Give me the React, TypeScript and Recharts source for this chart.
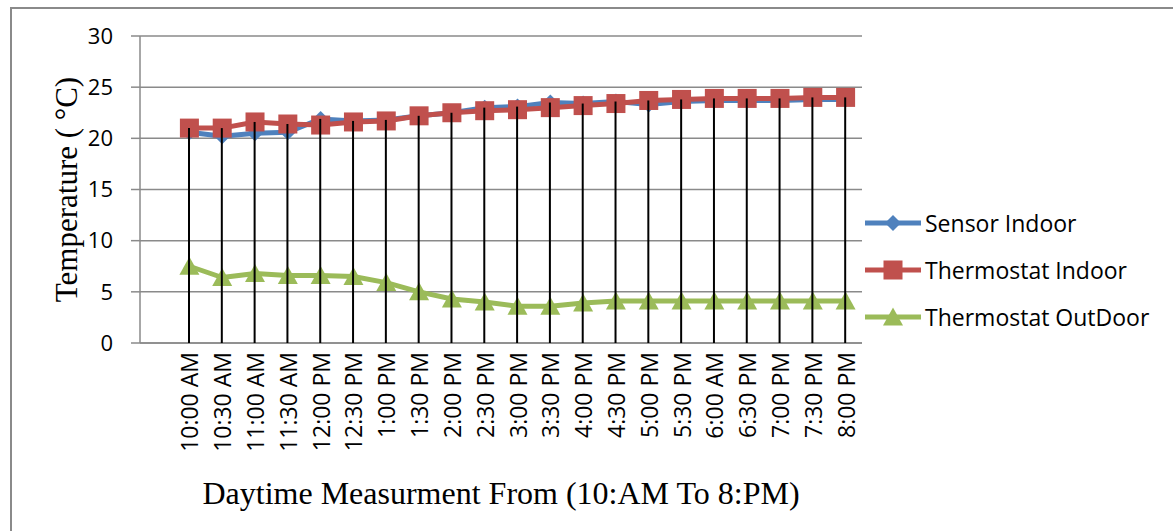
import React from "react";
import {
  ComposedChart, Line, Bar, XAxis, YAxis, CartesianGrid, Legend, Label,
} from "recharts";

const SANS = "'Open Sans', sans-serif";
const SERIF = "'Liberation Serif', 'Times New Roman', serif";
const GRAY = "#8a8a8a";

const TIMES = [
  "10:00 AM", "10:30 AM", "11:00 AM", "11:30 AM", "12:00 PM", "12:30 PM",
  "1:00 PM", "1:30 PM", "2:00 PM", "2:30 PM", "3:00 PM", "3:30 PM",
  "4:00 PM", "4:30 PM", "5:00 PM", "5:30 PM", "6:00 AM", "6:30 PM",
  "7:00 PM", "7:30 PM", "8:00 PM",
];
const SENSOR_INDOOR = [
  20.6, 20.2, 20.5, 20.6, 21.9, 21.7, 21.8, 22.2, 22.5, 23.0, 23.1,
  23.5, 23.4, 23.6, 23.3, 23.6, 23.7, 23.7, 23.7, 23.8, 23.8,
];
const THERMOSTAT_INDOOR = [
  21.0, 21.0, 21.6, 21.4, 21.3, 21.6, 21.7, 22.2, 22.5, 22.7, 22.8,
  23.0, 23.2, 23.4, 23.7, 23.8, 23.9, 23.9, 23.9, 24.0, 24.0,
];
const THERMOSTAT_OUTDOOR = [
  7.5, 6.4, 6.8, 6.6, 6.6, 6.5, 5.9, 5.0, 4.3, 4.0, 3.6,
  3.6, 3.9, 4.1, 4.1, 4.1, 4.1, 4.1, 4.1, 4.1, 4.1,
];
const Y_TICKS = [0, 5, 10, 15, 20, 25, 30];

const SERIES = [
  { key: "sensor", name: "Sensor Indoor", color: "#4f81bd", marker: "diamond" },
  { key: "indoor", name: "Thermostat Indoor", color: "#c0504d", marker: "square" },
  { key: "outdoor", name: "Thermostat OutDoor", color: "#9bbb59", marker: "triangle" },
];

const data = TIMES.map((time, i) => ({
  time,
  sensor: SENSOR_INDOOR[i],
  indoor: THERMOSTAT_INDOOR[i],
  outdoor: THERMOSTAT_OUTDOOR[i],
  // drop line reaches the highest series at each time
  drop: Math.max(SENSOR_INDOOR[i], THERMOSTAT_INDOOR[i], THERMOSTAT_OUTDOOR[i]),
}));

function Marker({ cx, cy, kind, color }: any) {
  if (cx == null || cy == null) return null;
  if (kind === "square") {
    return <rect x={cx - 9.5} y={cy - 9.5} width={19} height={19} fill={color} />;
  }
  if (kind === "diamond") {
    return (
      <polygon
        points={`${cx},${cy - 8} ${cx + 8},${cy} ${cx},${cy + 8} ${cx - 8},${cy}`}
        fill={color}
      />
    );
  }
  return (
    <polygon
      points={`${cx},${cy - 9.5} ${cx + 10},${cy + 8.5} ${cx - 10},${cy + 8.5}`}
      fill={color}
    />
  );
}

function XTick({ x, y, payload }: any) {
  return (
    <text
      x={x}
      y={y}
      transform={`rotate(-90 ${x} ${y})`}
      textAnchor="end"
      dominantBaseline="central"
      fontFamily={SANS}
      fontSize={23}
      fill="#000"
    >
      {payload.value}
    </text>
  );
}

function LegendBox() {
  return (
    <div style={{ fontFamily: SANS, fontSize: 23, color: "#000" }}>
      {SERIES.map((s) => (
        <div key={s.key} style={{ height: 47, display: "flex", alignItems: "center" }}>
          <svg width={58} height={24}>
            <line x1={0} x2={56} y1={12} y2={12} stroke={s.color} strokeWidth={5} />
            <Marker cx={28} cy={12} kind={s.marker} color={s.color} />
          </svg>
          <span style={{ marginLeft: 2, whiteSpace: "nowrap" }}>{s.name}</span>
        </div>
      ))}
    </div>
  );
}

export default function App() {
  return (
    <div
      style={{
        position: "absolute", left: 10, top: 7, width: 1163, height: 524,
        borderTop: `2px solid ${GRAY}`, borderLeft: `2px solid ${GRAY}`,
        boxSizing: "border-box", background: "#fff",
      }}
    >
      <ComposedChart
        width={1161}
        height={522}
        data={data}
        margin={{ top: 27, right: 311, bottom: 38, left: 0 }}
      >
        <CartesianGrid vertical={false} stroke={GRAY} strokeWidth={1.5} />
        <XAxis
          dataKey="time"
          interval={0}
          padding={{ left: 33, right: 0 }}
          height={150}
          tickLine={false}
          tickSize={0}
          tickMargin={9}
          axisLine={{ stroke: GRAY, strokeWidth: 1.5 }}
          tick={<XTick />}
        >
          <Label
            content={({ viewBox }: any) => (
              <text
                x={viewBox.x + viewBox.width / 2}
                y={viewBox.y + 150}
                textAnchor="middle"
                dominantBaseline="central"
                fontFamily={SERIF}
                fontSize={32}
                fill="#000"
              >
                Daytime Measurment From (10:AM To 8:PM)
              </text>
            )}
          />
        </XAxis>
        <YAxis
          width={128}
          domain={[0, 30]}
          ticks={Y_TICKS}
          interval={0}
          tickSize={9}
          tickMargin={18}
          tickLine={{ stroke: GRAY, strokeWidth: 1.5 }}
          axisLine={{ stroke: GRAY, strokeWidth: 1.5 }}
          tick={{ fill: "#000", fontSize: 22, fontFamily: SANS }}
        >
          <Label
            content={({ viewBox }: any) => {
              const cx = viewBox.x + 54;
              const cy = viewBox.y + viewBox.height / 2;
              return (
                <text
                  x={cx}
                  y={cy}
                  transform={`rotate(-90 ${cx} ${cy})`}
                  textAnchor="middle"
                  dominantBaseline="central"
                  fontFamily={SERIF}
                  fontSize={31}
                  fill="#000"
                >
                  Temperature ( °C)
                </text>
              );
            }}
          />
        </YAxis>
        <Legend
          layout="vertical"
          align="center"
          verticalAlign="middle"
          content={<LegendBox />}
          wrapperStyle={{ left: 853, top: 190, width: 300 }}
        />
        {SERIES.map((s) => (
          <Line
            key={s.key}
            dataKey={s.key}
            name={s.name}
            type="linear"
            stroke={s.color}
            strokeWidth={5}
            strokeLinejoin="round"
            dot={(p: any) => (
              <Marker key={`${s.key}-${p.index}`} cx={p.cx} cy={p.cy} kind={s.marker} color={s.color} />
            )}
            activeDot={false}
            isAnimationActive={false}
          />
        ))}
        <Bar
          dataKey="drop"
          legendType="none"
          fill="#000"
          barSize={2}
          zIndex={1500}
          isAnimationActive={false}
        />
      </ComposedChart>
    </div>
  );
}
